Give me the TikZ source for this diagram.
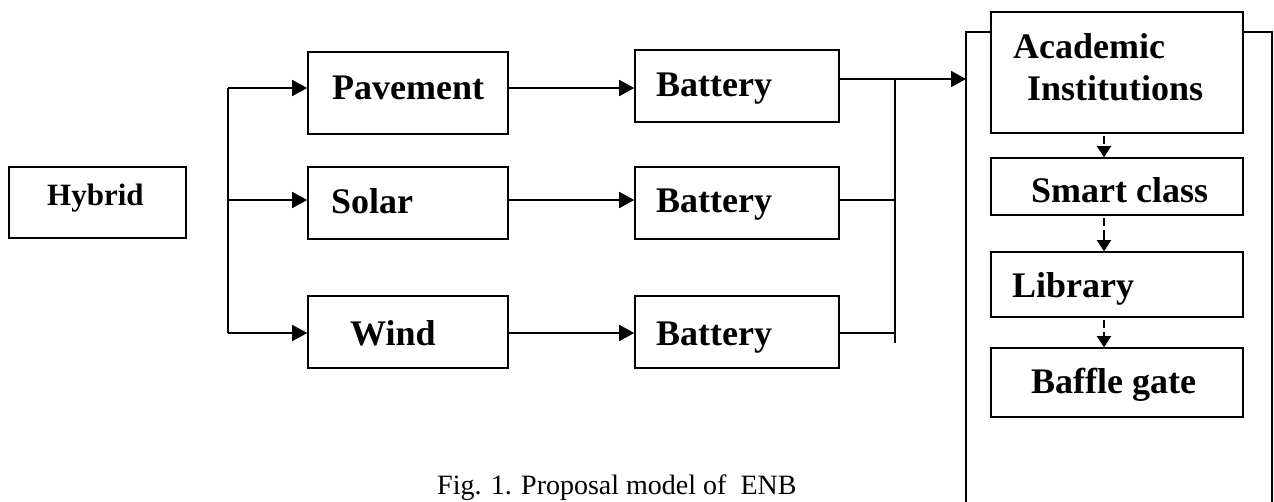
\documentclass[tikz,border=0pt]{standalone}
\usepackage{fontspec}
\setmainfont{Liberation Serif}
\usetikzlibrary{arrows.meta}
\begin{document}
\begin{tikzpicture}[x=1pt,y=-1pt,
  box/.style={draw, line width=1.6pt, inner sep=0pt, fill=white},
  txt/.style={anchor=base west, inner sep=0pt, font=\fontsize{36}{40}\selectfont\bfseries},
  arr/.style={line width=1.8pt, -{Triangle[length=15pt,width=16pt]}},
  ln/.style={line width=1.4pt},
  darr/.style={line width=1.8pt, dash pattern=on 0pt off 2pt on 8pt off 4pt on 100pt, -{Triangle[length=11pt,width=14pt]}}]
\path[use as bounding box] (0,0) rectangle (1274,501);
\clip (0,0) rectangle (1274,501);
% container
\draw[ln] (966,32) rectangle (1272,560);
% boxes
\node[box, minimum width=177pt, minimum height=71pt] (hyb) at (97.5,202.5) {};
\node[box, minimum width=200pt, minimum height=82pt] (pav) at (408,93) {};
\node[box, minimum width=200pt, minimum height=72pt] (sol) at (408,203) {};
\node[box, minimum width=200pt, minimum height=72pt] (wind) at (408,332) {};
\node[box, minimum width=204pt, minimum height=72pt] (bat1) at (737,86) {};
\node[box, minimum width=204pt, minimum height=72pt] (bat2) at (737,203) {};
\node[box, minimum width=204pt, minimum height=72pt] (bat3) at (737,332) {};
\node[box, minimum width=252pt, minimum height=121pt] (acad) at (1117,72.5) {};
\node[box, minimum width=252pt, minimum height=57pt] (smart) at (1117,186.5) {};
\node[box, minimum width=252pt, minimum height=65pt] (lib) at (1117,284.5) {};
\node[box, minimum width=252pt, minimum height=69pt] (baf) at (1117,382.5) {};
% texts
\node[txt, font=\fontsize{31}{34}\selectfont\bfseries] (thyb) at (47,205) {Hybrid};
\node[txt] (tpav) at (332,99) {Pavement};
\node[txt] (tsol) at (331,213) {Solar};
\node[txt] (twind) at (350,345) {Wind};
\node[txt] (tb1) at (656,96) {Battery};
\node[txt] (tb2) at (656,212) {Battery};
\node[txt] (tb3) at (656,345) {Battery};
\node[txt] (tac1) at (1013,58) {Academic};
\node[txt] (tac2) at (1027,100) {Institutions};
\node[txt] (tsm) at (1031,202) {Smart class};
\node[txt] (tlib) at (1012,297) {Library};
\node[txt] (tbaf) at (1031,393) {Baffle gate};
\node[anchor=base west, inner sep=0pt, font=\fontsize{28}{30}\selectfont] (cap) at (437,494) {Fig. 1. Proposal model of \ ENB};
% left bus
\coordinate (lb1) at (228,88);
\coordinate (lb2) at (228,200);
\coordinate (lb3) at (228,333);
\draw[ln] (lb1) -- (lb3);
\draw[arr] (lb1) -- (pav.west |- lb1);
\draw[arr] (lb2) -- (sol.west |- lb2);
\draw[arr] (lb3) -- (wind.west |- lb3);
% source to battery
\draw[arr] (pav.east |- lb1) -- (bat1.west |- lb1);
\draw[arr] (sol.east |- lb2) -- (bat2.west |- lb2);
\draw[arr] (wind.east |- lb3) -- (bat3.west |- lb3);
% right bus
\coordinate (rb1) at (895,79);
\coordinate (rb2) at (895,200);
\coordinate (rb3) at (895,333);
\coordinate (rbe) at (895,343);
\coordinate (cin) at (966,79);
\draw[ln] (rb1) -- (rbe);
\draw[ln] (bat1.east |- rb1) -- (rb1);
\draw[ln] (bat2.east |- rb2) -- (rb2);
\draw[ln] (bat3.east |- rb3) -- (rb3);
\draw[arr] (rb1) -- (cin);
% dashed arrows in the column
\draw[darr] (acad.south -| 1104,0) -- (smart.north -| 1104,0);
\draw[darr] (smart.south -| 1104,0) -- (lib.north -| 1104,0);
\draw[darr] (lib.south -| 1104,0) -- (baf.north -| 1104,0);
\end{tikzpicture}
\end{document}
